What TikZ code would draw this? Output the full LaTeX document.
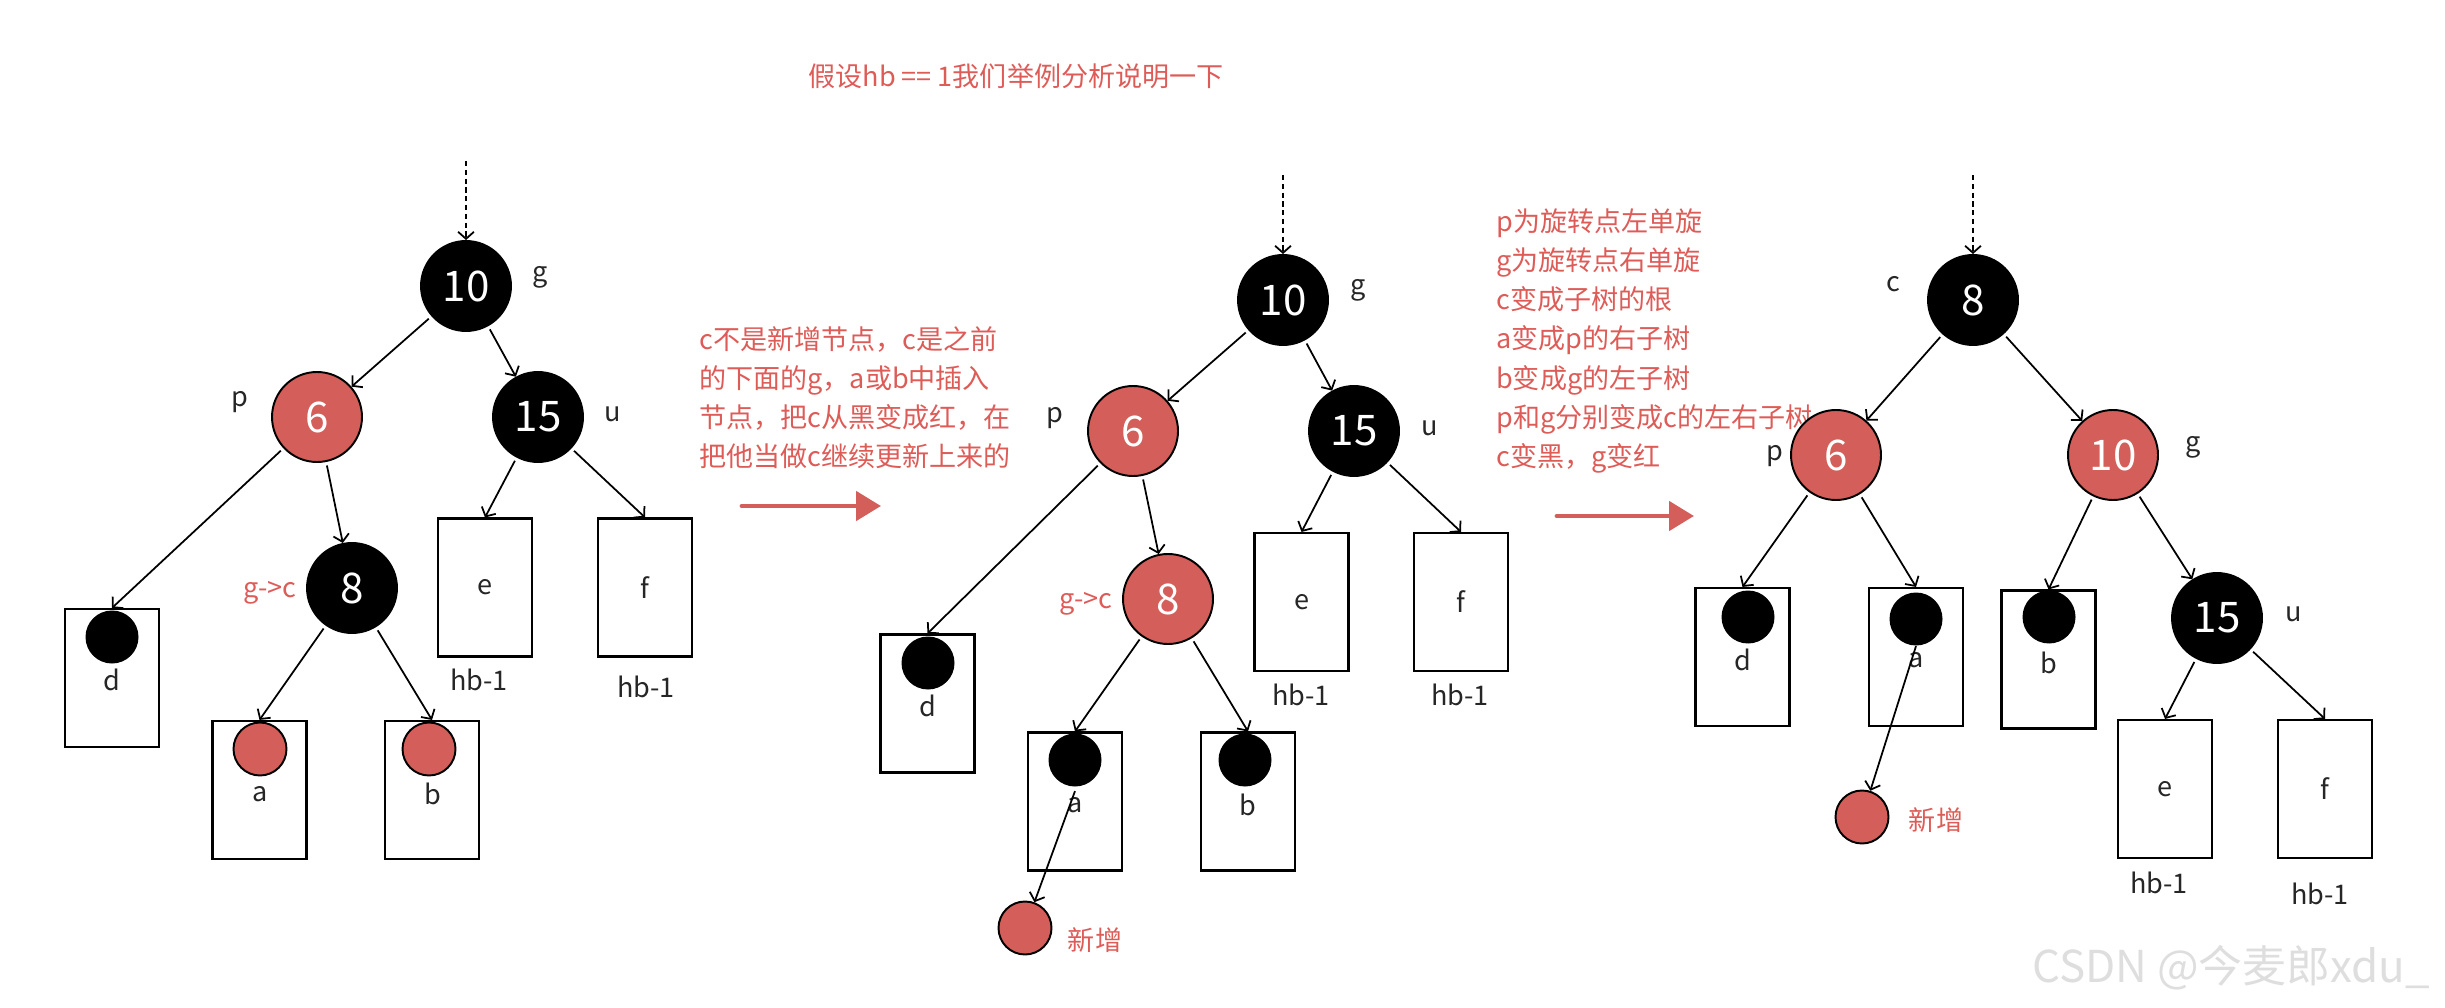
\documentclass[tikz,border=0pt]{standalone}
\usepackage{fontspec}
\setmainfont{Noto Sans CJK SC}
\usepackage{xcolor}
\usepackage{tikz}
\usetikzlibrary{arrows.meta}

\definecolor{rbred}{RGB}{212,94,90}
\definecolor{notered}{RGB}{222,92,88}
\newcommand{\numfont}{\fontsize{24}{26}\selectfont}
\newcommand{\lblfont}{\fontsize{15.4}{18}\selectfont}
\newcommand{\notefont}{\fontsize{15.4}{22.2}\selectfont}

\begin{document}
\begin{tikzpicture}[
  every node/.style={font=\lblfont, text=black!85},
  rbnode/.style={circle, draw, line width=1.1pt, minimum size=1.8cm, inner sep=0pt, font=\numfont, text=white},
  blk/.style={rbnode, fill=black},
  rednode/.style={rbnode, fill=rbred},
  leaf/.style={draw, line width=1.2pt, minimum width=1.88cm, minimum height=2.76cm, inner sep=0pt},
  ball/.style={circle, minimum size=1.06cm, inner sep=0pt},
  arrow/.style={-{Straight Barb[length=4pt,width=9pt]}, line width=1pt, shorten <=2pt},
  entry/.style={arrow, densely dashed, shorten <=0pt},
  note/.style={text=notered, align=left, font=\notefont},
  step arrow/.style={-{Triangle[length=0.5cm,width=0.58cm]}, line width=2.8pt, rbred, line cap=round}
]
  \useasboundingbox (0,0) rectangle (48.9,-20.16);

  \node[note] (title) at (20.32,-1.52) {假设hb == 1我们举例分析说明一下};

  % before
  \coordinate (top1) at (9.32,-3.22);
  \node[blk] (g1) at (9.32,-5.72) {10};
  \node[blk] (u1) at (10.76,-8.34) {15};
  \node[rednode] (p1) at (6.34,-8.34) {6};
  \node[blk] (c1) at (7.04,-11.76) {8};
  \node (g1l) at (10.8,-5.54) {g};
  \node (p1l) at (4.8,-8.04) {p};
  \node (u1l) at (12.26,-8.28) {u};
  \node[text=notered] (c1l) at (5.4,-11.86) {g->c};

  \node[leaf] (d1) at (2.24,-13.56) {};
  \node[leaf] (a1) at (5.19,-15.8) {};
  \node[leaf] (b1) at (8.64,-15.8) {};
  \node[leaf] (e1) at (9.7,-11.75) {e};
  \node[leaf] (f1) at (12.9,-11.75) {f};
  \node[ball, fill=black] (d1b) at (2.24,-12.74) {};
  \node[ball, draw, line width=1.1pt, fill=rbred] (a1b) at (5.2,-14.98) {};
  \node[ball, draw, line width=1.1pt, fill=rbred] (b1b) at (8.58,-14.98) {};
  \node (d1l) at (2.24,-13.6) {d};
  \node (a1l) at (5.2,-15.88) {a};
  \node (b1l) at (8.66,-15.88) {b};
  \node (e1h) at (9.58,-13.6) {hb-1};
  \node (f1h) at (12.92,-13.74) {hb-1};

  \draw[entry] (top1) -- (g1);
  \draw[arrow] (g1) -- (p1);
  \draw[arrow] (g1) -- (u1);
  \draw[arrow] (p1) -- (d1.north);
  \draw[arrow] (p1) -- (c1);
  \draw[arrow] (u1) -- (e1.north);
  \draw[arrow] (u1) -- (f1.north);
  \draw[arrow] (c1) -- (a1.north);
  \draw[arrow] (c1) -- (b1.north);

  \node[note, anchor=west] (why) at (13.86,-7.96) {c不是新增节点，c是之前\\的下面的g，a或b中插入\\节点，把c从黑变成红，在\\把他当做c继续更新上来的};
  \coordinate (s1a) at (14.84,-10.12);
  \coordinate (s1b) at (17.62,-10.12);
  \draw[step arrow] (s1a) -- (s1b);

  % recolor
  \coordinate (top2) at (25.66,-3.5);
  \node[blk] (g2) at (25.66,-6.0) {10};
  \node[rednode] (p2) at (22.66,-8.62) {6};
  \node[blk] (u2) at (27.08,-8.62) {15};
  \node[rednode] (c2) at (23.36,-11.98) {8};
  \node (g2l) at (27.16,-5.8) {g};
  \node (p2l) at (21.1,-8.36) {p};
  \node (u2l) at (28.6,-8.56) {u};
  \node[text=notered] (c2l) at (21.72,-12.08) {g->c};

  \node[leaf] (d2) at (18.55,-14.07) {};
  \node[leaf] (a2) at (21.5,-16.03) {};
  \node[leaf] (b2) at (24.96,-16.03) {};
  \node[leaf] (e2) at (26.03,-12.04) {e};
  \node[leaf] (f2) at (29.22,-12.04) {f};
  \node[ball, fill=black] (d2b) at (18.56,-13.26) {};
  \node[ball, fill=black] (a2b) at (21.5,-15.2) {};
  \node[ball, fill=black] (b2b) at (24.9,-15.2) {};
  \node (d2l) at (18.56,-14.12) {d};
  \node (a2l) at (21.5,-16.1) {a};
  \node (b2l) at (24.96,-16.1) {b};
  \node (e2h) at (26.02,-13.9) {hb-1};
  \node (f2h) at (29.2,-13.9) {hb-1};
  \node[ball, draw, line width=1.1pt, fill=rbred] (new2) at (20.5,-18.56) {};
  \node[text=notered] (new2l) at (21.9,-18.8) {新增};

  \draw[entry] (top2) -- (g2);
  \draw[arrow] (g2) -- (p2);
  \draw[arrow] (g2) -- (u2);
  \draw[arrow] (p2) -- (d2.north);
  \draw[arrow] (p2) -- (c2);
  \draw[arrow] (u2) -- (e2.north);
  \draw[arrow] (u2) -- (f2.north);
  \draw[arrow] (c2) -- (a2.north);
  \draw[arrow] (c2) -- (b2.north);
  \draw[arrow, shorten <=0pt] (a2l.north) -- (new2);

  \node[note, anchor=west] (how) at (29.8,-6.82) {p为旋转点左单旋\\g为旋转点右单旋\\c变成子树的根\\a变成p的右子树\\b变成g的左子树\\p和g分别变成c的左右子树\\c变黑，g变红};
  \coordinate (s2a) at (31.14,-10.32);
  \coordinate (s2b) at (33.88,-10.32);
  \draw[step arrow] (s2a) -- (s2b);

  % after rotation
  \coordinate (top3) at (39.46,-3.5);
  \node[blk] (c3) at (39.46,-6.0) {8};
  \node[rednode] (p3) at (36.72,-9.1) {6};
  \node[rednode] (g3) at (42.26,-9.1) {10};
  \node[blk] (u3) at (44.34,-12.36) {15};
  \node (c3l) at (37.86,-5.68) {c};
  \node (p3l) at (35.5,-9.12) {p};
  \node (g3l) at (43.86,-8.94) {g};
  \node (u3l) at (45.88,-12.28) {u};

  \node[leaf] (d3) at (34.85,-13.14) {};
  \node[leaf] (a3) at (38.32,-13.14) {};
  \node[leaf] (b3) at (40.97,-13.19) {};
  \node[leaf] (e3) at (43.3,-15.78) {e};
  \node[leaf] (f3) at (46.5,-15.78) {f};
  \node[ball, fill=black] (d3b) at (34.96,-12.34) {};
  \node[ball, fill=black] (a3b) at (38.32,-12.38) {};
  \node[ball, fill=black] (b3b) at (40.98,-12.34) {};
  \node (d3l) at (34.86,-13.2) {d};
  \node (a3l) at (38.32,-13.2) {a};
  \node (b3l) at (40.98,-13.26) {b};
  \node (e3h) at (43.18,-17.66) {hb-1};
  \node (f3h) at (46.4,-17.88) {hb-1};
  \node[ball, draw, line width=1.1pt, fill=rbred] (new3) at (37.24,-16.34) {};
  \node[text=notered] (new3l) at (38.72,-16.4) {新增};

  \draw[entry] (top3) -- (c3);
  \draw[arrow] (c3) -- (p3);
  \draw[arrow] (c3) -- (g3);
  \draw[arrow] (p3) -- (d3.north);
  \draw[arrow] (p3) -- (a3.north);
  \draw[arrow] (g3) -- (b3.north);
  \draw[arrow] (g3) -- (u3);
  \draw[arrow] (u3) -- (e3.north);
  \draw[arrow] (u3) -- (f3.north);
  \draw[arrow, shorten <=0pt] (a3l.north) -- (new3);

  \node[text=black!13, font=\fontsize{25}{27}\selectfont] (mark) at (44.62,-19.36) {CSDN @今麦郎xdu\_};
\end{tikzpicture}
\end{document}
